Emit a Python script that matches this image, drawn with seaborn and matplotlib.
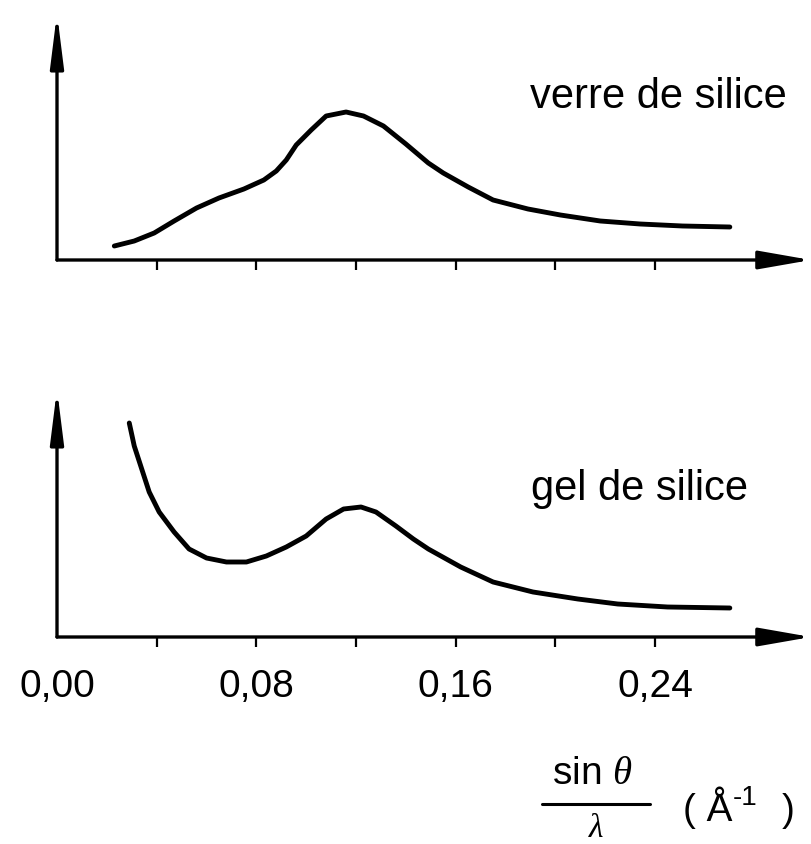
import numpy as np
import pandas as pd
import seaborn as sns
import matplotlib
matplotlib.use("Agg")
import matplotlib.pyplot as plt
from matplotlib.lines import Line2D

# valeurs (x en sin(theta)/lambda, y en unites arbitraires)
x_verre = [0.023, 0.031, 0.039, 0.047, 0.056, 0.065, 0.075, 0.083, 0.088, 0.092,
           0.096, 0.102, 0.108, 0.116, 0.123, 0.131, 0.140, 0.149, 0.155, 0.165,
           0.175, 0.189, 0.202, 0.218, 0.234, 0.251, 0.270]
y_verre = [14, 19, 27, 39, 52, 62, 71, 80, 89, 100,
           115, 130, 144, 148, 144, 134, 116, 97, 87, 73,
           60, 51, 45, 39, 36, 34, 33]

x_gel = [0.029, 0.031, 0.034, 0.037, 0.041, 0.047, 0.053, 0.060, 0.068, 0.076,
         0.084, 0.092, 0.100, 0.108, 0.115, 0.122, 0.128, 0.136, 0.143, 0.149,
         0.162, 0.175, 0.191, 0.209, 0.225, 0.245, 0.270]
y_gel = [214, 191, 168, 145, 125, 105, 88, 79, 75, 75,
         81, 90, 101, 118, 128, 130, 125, 111, 98, 88,
         70, 55, 45, 38, 33, 30, 29]

label_ticks = [0.0, 0.08, 0.16, 0.24]
tick_labels = ["0,00", "0,08", "0,16", "0,24"]
mark_ticks = [0.04, 0.08, 0.12, 0.16, 0.20, 0.24]

sns.set_style("white")
plt.rcParams['font.family'] = ['Liberation Sans', 'DejaVu Sans']
plt.rcParams['text.color'] = 'black'
plt.rcParams['xtick.color'] = 'black'
plt.rcParams['xtick.labelcolor'] = 'black'
plt.rcParams['mathtext.fontset'] = 'custom'
plt.rcParams['mathtext.rm'] = 'Liberation Sans'
plt.rcParams['mathtext.sf'] = 'Liberation Sans'
plt.rcParams['mathtext.it'] = 'Liberation Serif:italic'

W, H = 811, 845
fig = plt.figure(figsize=(W / 100, H / 100), dpi=100)

x0 = 57
px_per_unit = 2492
xmax = (W - x0) / px_per_unit

ax_top = fig.add_axes([x0 / W, 1 - 261 / H, (W - x0) / W, 247 / H])
ax_bot = fig.add_axes([x0 / W, 1 - 638 / H, (W - x0) / W, 248 / H])

df_verre = pd.DataFrame({"x": x_verre, "y": y_verre})
df_gel = pd.DataFrame({"x": x_gel, "y": y_gel})
sns.lineplot(data=df_verre, x="x", y="y", ax=ax_top, color="black", lw=3.5,
             sort=False, solid_capstyle="round", solid_joinstyle="round")
sns.lineplot(data=df_gel, x="x", y="y", ax=ax_bot, color="black", lw=3.5,
             sort=False, solid_capstyle="round", solid_joinstyle="round")

for ax, ytop in [(ax_top, 247), (ax_bot, 248)]:
    ax.set_xlim(0, xmax)
    ax.set_ylim(0, ytop)
    for s in ax.spines.values():
        s.set_visible(False)
    ax.set_xlabel("")
    ax.set_ylabel("")
    ax.set_yticks([])
    # graduations : les marques sur les mineures, les libelles sur les majeures
    ax.xaxis.remove_overlapping_locs = False
    ax.set_xticks(label_ticks)
    ax.set_xticks(mark_ticks, minor=True)
    ax.tick_params(axis="x", which="major", bottom=True, length=0, pad=22,
                   labelsize=28)
    ax.tick_params(axis="x", which="minor", bottom=True, direction="out", length=7,
                   width=1.6, color="black")
    # axes avec fleches
    ax.annotate("", xy=(1, 0), xytext=(0, 0), xycoords="axes fraction",
                arrowprops=dict(arrowstyle="-|>,head_length=1.6,head_width=0.28",
                                lw=2.4, color="black", shrinkA=0, shrinkB=0,
                                mutation_scale=20))
    ax.annotate("", xy=(0, 1), xytext=(0, 0), xycoords="axes fraction",
                arrowprops=dict(arrowstyle="-|>,head_length=1.6,head_width=0.2",
                                lw=2.4, color="black", shrinkA=0, shrinkB=0,
                                mutation_scale=20))

ax_top.set_xticklabels([""] * len(label_ticks))
ax_bot.set_xticklabels(tick_labels)

fig.text(530 / W, 1 - 108 / H, "verre de silice", fontsize=30, va="baseline", ha="left")
fig.text(531 / W, 1 - 500 / H, "gel de silice", fontsize=30, va="baseline", ha="left")

# titre de l'axe x : fraction sin(theta)/lambda
fig.text(592 / W, 1 - 784 / H, r"sin $\theta$", fontsize=28, va="baseline", ha="center")
fig.add_artist(Line2D([542 / W, 650 / W], [1 - 805 / H, 1 - 805 / H],
                      transform=fig.transFigure, color="black", lw=2.2))
fig.text(596 / W, 1 - 844 / H, r"$\lambda$", fontsize=24, va="bottom", ha="center")
fig.text(683 / W, 1 - 821 / H, "( Å", fontsize=28, va="baseline", ha="left")
fig.text(733 / W, 1 - 805 / H, "-1", fontsize=20, va="baseline", ha="left")
fig.text(782 / W, 1 - 821 / H, ")", fontsize=28, va="baseline", ha="left")

fig.savefig("out.png", dpi=100)
